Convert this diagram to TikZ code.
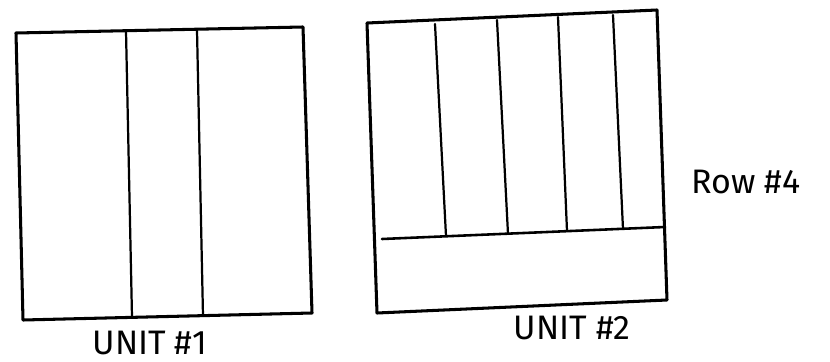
\documentclass[tikz,border=0pt]{standalone}
\usepackage{fontspec}
\setmainfont{Fira Sans}
\usepackage{tkz-euclide}

\begin{document}
\begin{tikzpicture}[x=0.03cm,y=-0.03cm]
\useasboundingbox (0,0) rectangle (830,362);
\tkzSetUpLine[line width=2.6pt,color=black]

% Corners of the first unit.
\tkzDefPoint(16,33){A}
\tkzDefPoint(303,27){B}
\tkzDefPoint(312,313){C}
\tkzDefPoint(23,320){D}

% Ends of the two dividers of the first unit.
\tkzDefPoint(126,31){Pa}
\tkzDefPoint(132,317){Qa}
\tkzDefPoint(197,30){Pb}
\tkzDefPoint(203,316){Qb}

% Corners of the second unit.
\tkzDefPoint(367,23){E}
\tkzDefPoint(657,10){F}
\tkzDefPoint(667,300){G}
\tkzDefPoint(377,313){H}

% The bottom row of the second unit.
\tkzDefPoint(382,239){Ra}
\tkzDefPoint(665,227){Rb}

% Ends of the four dividers above the row.
\tkzDefPoint(435,24){Sa}
\tkzDefPoint(446,236){Ta}
\tkzDefPoint(497,20){Sb}
\tkzDefPoint(508,234){Tb}
\tkzDefPoint(558,17){Sc}
\tkzDefPoint(567,231){Tc}
\tkzDefPoint(613,15){Sd}
\tkzDefPoint(623,229){Td}

% Draw the two units.
\tkzDrawPolygon[line width=2.6pt](A,B,C,D)
\tkzDrawPolygon[line width=2.6pt](E,F,G,H)

\tkzDrawSegments[line width=1.9pt](Pa,Qa Pb,Qb)
\tkzDrawSegment[line width=2.2pt](Ra,Rb)
\tkzDrawSegments[line width=1.9pt](Sa,Ta Sb,Tb Sc,Tc Sd,Td)

\node[font=\fontsize{29}{30}\selectfont] (unitone) at (150,343) {UNIT \#1};
\node[font=\fontsize{29}{30}\selectfont] (unittwo) at (572,328) {UNIT \#2};
\node[font=\fontsize{29}{30}\selectfont] (rowfour) at (746,182) {Row \#4};

\end{tikzpicture}
\end{document}
